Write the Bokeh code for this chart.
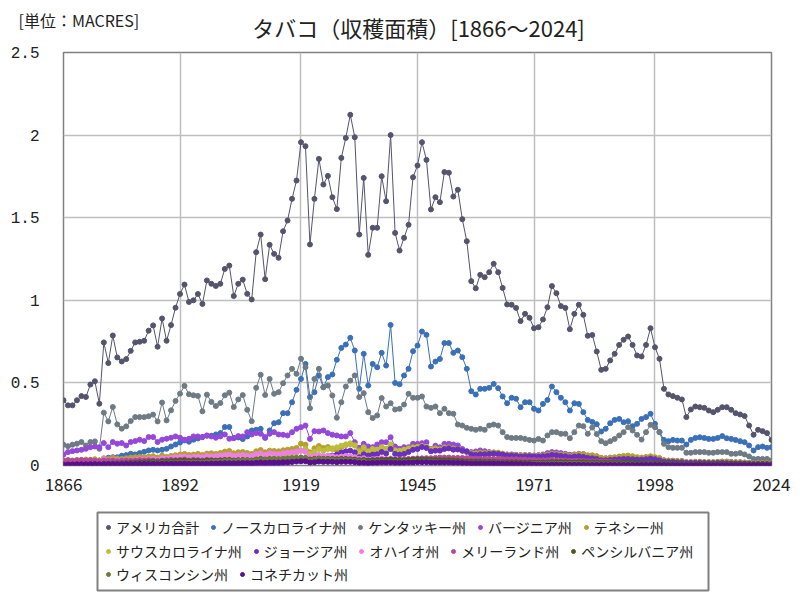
from bokeh.plotting import figure
from bokeh.models import FixedTicker, Label, Legend, LegendItem, CustomJSTickFormatter, Range1d, BoxAnnotation
from bokeh.layouts import column
from bokeh.embed import file_html
from bokeh.resources import INLINE

YEARS = list(range(1866, 2025))
X_TICKS = [1866, 1892, 1919, 1945, 1971, 1998, 2024]
Y_TICKS = [0, 0.5, 1, 1.5, 2, 2.5]

US = [0.395, 0.364, 0.364, 0.395, 0.42, 0.415, 0.49, 0.51, 0.374, 0.745,
      0.62, 0.787, 0.654, 0.63, 0.644, 0.694, 0.745, 0.749, 0.755, 0.816,
      0.848, 0.719, 0.89, 0.755, 0.85, 0.955, 1.038, 1.095, 0.99, 1.0,
      1.038, 0.978, 1.12, 1.10, 1.087, 1.10, 1.19, 1.21, 1.026, 1.10,
      1.125, 1.039, 1.005, 1.291, 1.398, 1.128, 1.336, 1.281, 1.257, 1.418,
      1.483, 1.614, 1.725, 1.957, 1.933, 1.338, 1.614, 1.856, 1.701, 1.753,
      1.624, 1.552, 1.862, 1.983, 2.123, 1.987, 1.398, 1.741, 1.275, 1.439,
      1.439, 1.751, 1.60, 2.0, 1.408, 1.301, 1.378, 1.457, 1.745, 1.816,
      1.957, 1.85, 1.55, 1.624, 1.594, 1.776, 1.772, 1.628, 1.669, 1.491,
      1.358, 1.116, 1.073, 1.154, 1.14, 1.17, 1.221, 1.17, 1.075, 0.975,
      0.973, 0.954, 0.874, 0.918, 0.894, 0.831, 0.837, 0.884, 0.958, 1.086,
      1.043, 0.965, 0.954, 0.825, 0.918, 0.973, 0.912, 0.785, 0.79, 0.69,
      0.579, 0.585, 0.636, 0.676, 0.73, 0.761, 0.781, 0.73, 0.666, 0.66,
      0.73, 0.831, 0.716, 0.646, 0.464, 0.43, 0.42, 0.41, 0.40, 0.293,
      0.339, 0.357, 0.353, 0.349, 0.333, 0.323, 0.337, 0.353, 0.353, 0.337,
      0.317, 0.309, 0.299, 0.242, 0.186, 0.216, 0.208, 0.196, 0.155]

NC = [0.014, 0.016, 0.02, 0.02, 0.026, 0.026, 0.03, 0.034, 0.03, 0.04,
      0.047, 0.05, 0.05, 0.059, 0.063, 0.071, 0.067, 0.075, 0.083, 0.091,
      0.095, 0.091, 0.095, 0.101, 0.115, 0.127, 0.139, 0.152, 0.144, 0.156,
      0.164, 0.172, 0.18, 0.18, 0.188, 0.196, 0.233, 0.233, 0.166, 0.17,
      0.16, 0.176, 0.212, 0.216, 0.222, 0.167, 0.212, 0.256, 0.262, 0.317,
      0.317, 0.383, 0.458, 0.524, 0.615, 0.414, 0.444, 0.545, 0.474, 0.535,
      0.551, 0.64, 0.712, 0.732, 0.773, 0.696, 0.464, 0.676, 0.484, 0.615,
      0.595, 0.682, 0.605, 0.851, 0.50, 0.492, 0.545, 0.585, 0.692, 0.726,
      0.811, 0.791, 0.599, 0.629, 0.645, 0.741, 0.741, 0.682, 0.696, 0.656,
      0.585, 0.45, 0.43, 0.464, 0.464, 0.47, 0.494, 0.468, 0.418, 0.377,
      0.41, 0.404, 0.353, 0.383, 0.383, 0.343, 0.333, 0.373, 0.397, 0.478,
      0.444, 0.41, 0.383, 0.333, 0.377, 0.373, 0.323, 0.276, 0.264, 0.25,
      0.206, 0.222, 0.256, 0.276, 0.282, 0.262, 0.268, 0.238, 0.252, 0.282,
      0.293, 0.313, 0.252, 0.202, 0.155, 0.147, 0.155, 0.151, 0.151, 0.127,
      0.155, 0.167, 0.171, 0.167, 0.161, 0.161, 0.167, 0.178, 0.165, 0.161,
      0.155, 0.147, 0.141, 0.121, 0.091, 0.111, 0.115, 0.107, 0.111]

KY = [0.126, 0.117, 0.126, 0.132, 0.142, 0.121, 0.142, 0.146, 0.101, 0.32,
      0.267, 0.354, 0.249, 0.223, 0.237, 0.269, 0.293, 0.293, 0.293, 0.298,
      0.308, 0.267, 0.381, 0.273, 0.334, 0.391, 0.435, 0.482, 0.431, 0.425,
      0.421, 0.328, 0.429, 0.385, 0.36, 0.378, 0.425, 0.441, 0.354, 0.40,
      0.426, 0.337, 0.268, 0.47, 0.549, 0.427, 0.524, 0.434, 0.444, 0.498,
      0.545, 0.585, 0.555, 0.646, 0.595, 0.347, 0.524, 0.585, 0.474, 0.484,
      0.424, 0.289, 0.383, 0.478, 0.514, 0.545, 0.414, 0.438, 0.323, 0.287,
      0.303, 0.408, 0.357, 0.377, 0.339, 0.343, 0.369, 0.434, 0.41, 0.41,
      0.418, 0.357, 0.349, 0.357, 0.317, 0.343, 0.317, 0.313, 0.248, 0.242,
      0.228, 0.222, 0.216, 0.222, 0.216, 0.242, 0.248, 0.242, 0.202, 0.172,
      0.167, 0.167, 0.167, 0.161, 0.155, 0.151, 0.161, 0.151, 0.182, 0.202,
      0.202, 0.192, 0.192, 0.165, 0.202, 0.242, 0.238, 0.192, 0.23, 0.19,
      0.147, 0.135, 0.147, 0.161, 0.182, 0.202, 0.232, 0.212, 0.186, 0.157,
      0.202, 0.246, 0.232, 0.202, 0.131, 0.111, 0.107, 0.107, 0.107, 0.077,
      0.077, 0.081, 0.081, 0.081, 0.077, 0.077, 0.081, 0.081, 0.081, 0.071,
      0.071, 0.075, 0.067, 0.055, 0.04, 0.04, 0.04, 0.04, 0.03]

VA = [0.067, 0.081, 0.087, 0.091, 0.095, 0.101, 0.111, 0.115, 0.111, 0.136,
      0.111, 0.142, 0.132, 0.136, 0.121, 0.142, 0.148, 0.156, 0.148, 0.172,
      0.172, 0.142, 0.156, 0.162, 0.168, 0.176, 0.168, 0.156, 0.162, 0.176,
      0.176, 0.172, 0.182, 0.176, 0.168, 0.176, 0.188, 0.162, 0.166, 0.178,
      0.176, 0.202, 0.188, 0.196, 0.192, 0.172, 0.192, 0.202, 0.188, 0.186,
      0.182, 0.202, 0.222, 0.232, 0.242, 0.161, 0.208, 0.206, 0.212, 0.196,
      0.186, 0.182, 0.176, 0.176, 0.196, 0.141, 0.107, 0.131, 0.115, 0.111,
      0.127, 0.141, 0.141, 0.171, 0.115, 0.101, 0.111, 0.111, 0.131, 0.131,
      0.135, 0.141, 0.10, 0.12, 0.11, 0.131, 0.131, 0.127, 0.121, 0.10,
      0.087, 0.081, 0.085, 0.091, 0.087, 0.081, 0.071, 0.071, 0.067, 0.067,
      0.067, 0.065, 0.063, 0.063, 0.063, 0.061, 0.063, 0.067, 0.075, 0.081,
      0.079, 0.075, 0.071, 0.065, 0.067, 0.071, 0.069, 0.061, 0.059, 0.055,
      0.045, 0.043, 0.045, 0.047, 0.049, 0.049, 0.051, 0.049, 0.045, 0.043,
      0.045, 0.049, 0.045, 0.039, 0.031, 0.029, 0.029, 0.027, 0.027, 0.02,
      0.02, 0.022, 0.022, 0.02, 0.02, 0.02, 0.022, 0.024, 0.024, 0.022,
      0.02, 0.02, 0.018, 0.016, 0.014, 0.014, 0.015, 0.014, 0.012]

TN = [0.03, 0.032, 0.03, 0.034, 0.032, 0.036, 0.034, 0.038, 0.03, 0.044,
      0.04, 0.046, 0.042, 0.04, 0.044, 0.048, 0.05, 0.052, 0.05, 0.054,
      0.056, 0.048, 0.06, 0.052, 0.058, 0.062, 0.066, 0.07, 0.064, 0.066,
      0.07, 0.064, 0.072, 0.074, 0.07, 0.076, 0.084, 0.088, 0.074, 0.08,
      0.082, 0.076, 0.07, 0.086, 0.094, 0.08, 0.09, 0.088, 0.086, 0.092,
      0.096, 0.1, 0.106, 0.132, 0.126, 0.08, 0.104, 0.118, 0.106, 0.112,
      0.1, 0.092, 0.112, 0.124, 0.13, 0.124, 0.092, 0.1, 0.082, 0.086,
      0.09, 0.11, 0.1, 0.118, 0.092, 0.088, 0.096, 0.104, 0.11, 0.114,
      0.118, 0.112, 0.1, 0.104, 0.098, 0.11, 0.11, 0.104, 0.1, 0.09,
      0.084, 0.076, 0.074, 0.078, 0.076, 0.078, 0.08, 0.078, 0.072, 0.066,
      0.064, 0.064, 0.062, 0.062, 0.06, 0.058, 0.06, 0.062, 0.066, 0.072,
      0.07, 0.066, 0.066, 0.058, 0.064, 0.07, 0.068, 0.06, 0.062, 0.056,
      0.046, 0.044, 0.048, 0.05, 0.054, 0.058, 0.06, 0.056, 0.05, 0.048,
      0.052, 0.056, 0.05, 0.046, 0.032, 0.03, 0.028, 0.028, 0.026, 0.02,
      0.02, 0.021, 0.021, 0.02, 0.02, 0.019, 0.021, 0.022, 0.022, 0.021,
      0.02, 0.019, 0.018, 0.016, 0.014, 0.015, 0.015, 0.014, 0.013]

SC = [0.006, 0.006, 0.006, 0.007, 0.007, 0.008, 0.008, 0.008, 0.007, 0.009,
      0.009, 0.01, 0.01, 0.01, 0.011, 0.012, 0.012, 0.013, 0.013, 0.014,
      0.015, 0.015, 0.017, 0.018, 0.02, 0.022, 0.024, 0.026, 0.025, 0.028,
      0.03, 0.03, 0.032, 0.033, 0.034, 0.036, 0.04, 0.04, 0.034, 0.036,
      0.036, 0.036, 0.04, 0.042, 0.044, 0.036, 0.044, 0.05, 0.052, 0.058,
      0.06, 0.068, 0.078, 0.09, 0.1, 0.07, 0.084, 0.1, 0.09, 0.1,
      0.104, 0.11, 0.12, 0.128, 0.134, 0.12, 0.08, 0.11, 0.086, 0.1,
      0.096, 0.11, 0.1, 0.128, 0.09, 0.088, 0.094, 0.1, 0.108, 0.11,
      0.116, 0.112, 0.094, 0.098, 0.096, 0.104, 0.104, 0.098, 0.096, 0.088,
      0.08, 0.068, 0.066, 0.068, 0.066, 0.068, 0.07, 0.068, 0.062, 0.056,
      0.054, 0.052, 0.048, 0.05, 0.05, 0.048, 0.046, 0.048, 0.05, 0.056,
      0.054, 0.05, 0.048, 0.042, 0.048, 0.05, 0.048, 0.042, 0.04, 0.038,
      0.03, 0.03, 0.032, 0.034, 0.036, 0.038, 0.038, 0.036, 0.034, 0.034,
      0.036, 0.04, 0.036, 0.032, 0.024, 0.022, 0.022, 0.02, 0.02, 0.016,
      0.016, 0.017, 0.017, 0.016, 0.016, 0.016, 0.017, 0.018, 0.017, 0.016,
      0.015, 0.015, 0.014, 0.012, 0.01, 0.011, 0.011, 0.01, 0.009]

GA = [0.002, 0.002, 0.002, 0.002, 0.002, 0.002, 0.002, 0.003, 0.003, 0.003,
      0.003, 0.003, 0.003, 0.003, 0.003, 0.003, 0.003, 0.003, 0.003, 0.003,
      0.003, 0.003, 0.003, 0.003, 0.004, 0.004, 0.004, 0.004, 0.004, 0.004,
      0.004, 0.004, 0.004, 0.004, 0.004, 0.004, 0.005, 0.005, 0.005, 0.005,
      0.005, 0.005, 0.006, 0.006, 0.006, 0.006, 0.008, 0.01, 0.012, 0.015,
      0.018, 0.022, 0.028, 0.036, 0.04, 0.022, 0.03, 0.045, 0.05, 0.058,
      0.06, 0.066, 0.078, 0.086, 0.09, 0.08, 0.05, 0.068, 0.06, 0.066,
      0.068, 0.082, 0.072, 0.1, 0.07, 0.066, 0.07, 0.082, 0.095, 0.1,
      0.112, 0.106, 0.086, 0.09, 0.09, 0.1, 0.104, 0.096, 0.098, 0.09,
      0.084, 0.068, 0.064, 0.068, 0.068, 0.07, 0.072, 0.07, 0.066, 0.06,
      0.06, 0.058, 0.054, 0.056, 0.056, 0.054, 0.054, 0.056, 0.058, 0.064,
      0.062, 0.058, 0.056, 0.05, 0.054, 0.056, 0.052, 0.046, 0.044, 0.04,
      0.032, 0.032, 0.034, 0.036, 0.038, 0.04, 0.04, 0.038, 0.036, 0.036,
      0.038, 0.042, 0.038, 0.032, 0.024, 0.022, 0.022, 0.02, 0.02, 0.016,
      0.016, 0.016, 0.017, 0.016, 0.015, 0.015, 0.016, 0.016, 0.015, 0.014,
      0.013, 0.013, 0.012, 0.011, 0.009, 0.01, 0.01, 0.009, 0.008]

OH = [0.018, 0.02, 0.022, 0.02, 0.024, 0.03, 0.026, 0.028, 0.02, 0.04,
      0.03, 0.034, 0.032, 0.03, 0.034, 0.032, 0.036, 0.038, 0.036, 0.04,
      0.04, 0.036, 0.044, 0.042, 0.046, 0.05, 0.052, 0.054, 0.05, 0.052,
      0.054, 0.05, 0.058, 0.056, 0.056, 0.06, 0.064, 0.066, 0.058, 0.062,
      0.064, 0.06, 0.058, 0.068, 0.074, 0.064, 0.074, 0.07, 0.068, 0.074,
      0.078, 0.08, 0.084, 0.09, 0.082, 0.05, 0.06, 0.064, 0.058, 0.06,
      0.056, 0.05, 0.054, 0.058, 0.056, 0.05, 0.04, 0.044, 0.036, 0.038,
      0.04, 0.044, 0.04, 0.042, 0.036, 0.034, 0.036, 0.04, 0.042, 0.044,
      0.044, 0.04, 0.036, 0.036, 0.034, 0.034, 0.036, 0.034, 0.032, 0.03,
      0.028, 0.026, 0.024, 0.024, 0.024, 0.024, 0.024, 0.022, 0.022, 0.02,
      0.02, 0.02, 0.018, 0.018, 0.018, 0.017, 0.017, 0.017, 0.018, 0.02,
      0.019, 0.018, 0.018, 0.016, 0.017, 0.018, 0.017, 0.015, 0.015, 0.014,
      0.012, 0.012, 0.012, 0.013, 0.013, 0.013, 0.013, 0.012, 0.011, 0.011,
      0.012, 0.012, 0.011, 0.01, 0.008, 0.007, 0.007, 0.006, 0.006, 0.005,
      0.004, 0.004, 0.004, 0.003, 0.003, 0.003, 0.003, 0.003, 0.003, 0.003,
      0.002, 0.002, 0.002, 0.002, 0.002, 0.002, 0.002, 0.002, 0.002]

MD = [0.03, 0.032, 0.028, 0.03, 0.034, 0.03, 0.032, 0.028, 0.026, 0.03,
      0.028, 0.03, 0.026, 0.028, 0.03, 0.028, 0.03, 0.032, 0.03, 0.032,
      0.03, 0.028, 0.03, 0.032, 0.034, 0.032, 0.034, 0.036, 0.03, 0.034,
      0.032, 0.03, 0.034, 0.032, 0.03, 0.032, 0.034, 0.032, 0.028, 0.03,
      0.03, 0.028, 0.026, 0.028, 0.03, 0.028, 0.028, 0.028, 0.027, 0.028,
      0.028, 0.028, 0.03, 0.03, 0.03, 0.028, 0.03, 0.03, 0.028, 0.028,
      0.028, 0.026, 0.028, 0.03, 0.03, 0.028, 0.028, 0.03, 0.03, 0.032,
      0.034, 0.036, 0.036, 0.038, 0.036, 0.036, 0.036, 0.038, 0.04, 0.04,
      0.042, 0.044, 0.044, 0.046, 0.048, 0.048, 0.048, 0.046, 0.046, 0.046,
      0.044, 0.042, 0.042, 0.04, 0.04, 0.04, 0.04, 0.04, 0.038, 0.038,
      0.038, 0.038, 0.036, 0.036, 0.034, 0.034, 0.032, 0.032, 0.032, 0.032,
      0.03, 0.03, 0.03, 0.028, 0.028, 0.028, 0.028, 0.026, 0.026, 0.025,
      0.024, 0.024, 0.022, 0.02, 0.02, 0.018, 0.016, 0.014, 0.012, 0.011,
      0.01, 0.01, 0.009, 0.008, 0.005, 0.002, 0.001, 0.001, 0.001, 0.001,
      0.001, 0.001, 0.001, 0.001, 0.001, 0.001, 0.001, 0.001, 0.001, 0.001,
      0.001, 0.001, 0.001, 0.001, 0.001, 0.001, 0.001, 0.001, 0.001]

PA = [0.004, 0.004, 0.005, 0.005, 0.006, 0.006, 0.007, 0.007, 0.006, 0.01,
      0.01, 0.012, 0.012, 0.013, 0.014, 0.016, 0.018, 0.02, 0.02, 0.022,
      0.024, 0.02, 0.026, 0.024, 0.026, 0.028, 0.028, 0.03, 0.026, 0.028,
      0.028, 0.026, 0.03, 0.03, 0.028, 0.03, 0.032, 0.034, 0.03, 0.032,
      0.034, 0.032, 0.03, 0.036, 0.04, 0.036, 0.038, 0.038, 0.036, 0.038,
      0.04, 0.042, 0.044, 0.046, 0.044, 0.036, 0.04, 0.042, 0.04, 0.04,
      0.04, 0.038, 0.04, 0.04, 0.038, 0.036, 0.032, 0.034, 0.03, 0.032,
      0.032, 0.034, 0.034, 0.036, 0.034, 0.032, 0.03, 0.034, 0.036, 0.038,
      0.036, 0.036, 0.034, 0.034, 0.032, 0.032, 0.032, 0.03, 0.028, 0.026,
      0.024, 0.024, 0.024, 0.024, 0.022, 0.022, 0.022, 0.02, 0.02, 0.02,
      0.02, 0.02, 0.018, 0.018, 0.018, 0.017, 0.017, 0.018, 0.018, 0.02,
      0.02, 0.02, 0.02, 0.018, 0.018, 0.02, 0.02, 0.018, 0.018, 0.018,
      0.016, 0.016, 0.016, 0.016, 0.017, 0.018, 0.018, 0.018, 0.016, 0.014,
      0.014, 0.014, 0.013, 0.013, 0.012, 0.011, 0.01, 0.01, 0.01, 0.009,
      0.009, 0.009, 0.01, 0.01, 0.01, 0.01, 0.01, 0.01, 0.01, 0.01,
      0.01, 0.009, 0.009, 0.008, 0.007, 0.008, 0.008, 0.007, 0.007]

WI = [0.002, 0.002, 0.003, 0.003, 0.004, 0.004, 0.005, 0.005, 0.004, 0.006,
      0.006, 0.007, 0.008, 0.008, 0.009, 0.01, 0.011, 0.012, 0.012, 0.013,
      0.014, 0.012, 0.015, 0.014, 0.015, 0.016, 0.017, 0.018, 0.016, 0.018,
      0.018, 0.017, 0.02, 0.022, 0.022, 0.024, 0.028, 0.03, 0.026, 0.03,
      0.032, 0.03, 0.028, 0.034, 0.038, 0.034, 0.04, 0.04, 0.038, 0.04,
      0.042, 0.044, 0.046, 0.048, 0.046, 0.03, 0.036, 0.04, 0.036, 0.036,
      0.034, 0.03, 0.032, 0.034, 0.032, 0.028, 0.024, 0.026, 0.018, 0.02,
      0.02, 0.022, 0.02, 0.022, 0.02, 0.02, 0.02, 0.022, 0.022, 0.024,
      0.024, 0.024, 0.022, 0.022, 0.02, 0.02, 0.02, 0.018, 0.018, 0.016,
      0.016, 0.014, 0.014, 0.014, 0.014, 0.014, 0.014, 0.013, 0.013, 0.012,
      0.012, 0.011, 0.01, 0.01, 0.01, 0.01, 0.01, 0.01, 0.01, 0.011,
      0.011, 0.011, 0.01, 0.01, 0.01, 0.01, 0.01, 0.009, 0.009, 0.009,
      0.007, 0.007, 0.007, 0.007, 0.007, 0.007, 0.007, 0.006, 0.005, 0.005,
      0.005, 0.005, 0.004, 0.004, 0.003, 0.003, 0.002, 0.002, 0.002, 0.002,
      0.002, 0.002, 0.002, 0.002, 0.002, 0.002, 0.001, 0.001, 0.001, 0.001,
      0.001, 0.001, 0.001, 0.001, 0.001, 0.001, 0.001, 0.001, 0.001]

CT = [0.006, 0.006, 0.006, 0.007, 0.007, 0.007, 0.008, 0.008, 0.007, 0.008,
      0.008, 0.008, 0.008, 0.008, 0.009, 0.009, 0.009, 0.01, 0.01, 0.01,
      0.01, 0.009, 0.01, 0.01, 0.01, 0.011, 0.011, 0.012, 0.01, 0.011,
      0.011, 0.01, 0.011, 0.012, 0.012, 0.013, 0.014, 0.014, 0.013, 0.014,
      0.015, 0.015, 0.014, 0.016, 0.018, 0.016, 0.018, 0.018, 0.018, 0.02,
      0.02, 0.022, 0.024, 0.026, 0.026, 0.018, 0.02, 0.024, 0.022, 0.022,
      0.022, 0.02, 0.022, 0.022, 0.022, 0.02, 0.016, 0.016, 0.014, 0.016,
      0.016, 0.018, 0.018, 0.018, 0.016, 0.016, 0.016, 0.018, 0.018, 0.02,
      0.02, 0.02, 0.018, 0.018, 0.018, 0.018, 0.018, 0.016, 0.016, 0.015,
      0.014, 0.012, 0.012, 0.012, 0.012, 0.012, 0.012, 0.011, 0.011, 0.01,
      0.01, 0.009, 0.009, 0.008, 0.008, 0.006, 0.005, 0.005, 0.005, 0.005,
      0.005, 0.004, 0.004, 0.004, 0.004, 0.004, 0.004, 0.003, 0.003, 0.003,
      0.003, 0.003, 0.003, 0.003, 0.003, 0.003, 0.003, 0.003, 0.003, 0.003,
      0.003, 0.003, 0.003, 0.003, 0.003, 0.002, 0.002, 0.002, 0.002, 0.002,
      0.002, 0.002, 0.002, 0.002, 0.002, 0.002, 0.002, 0.002, 0.002, 0.002,
      0.002, 0.002, 0.002, 0.002, 0.002, 0.002, 0.002, 0.002, 0.002]

NAMES = ["アメリカ合計", "ノースカロライナ州", "ケンタッキー州", "バージニア州", "テネシー州",
         "サウスカロライナ州", "ジョージア州", "オハイオ州", "メリーランド州", "ペンシルバニア州",
         "ウィスコンシン州", "コネチカット州"]
VALUES = [US, NC, KY, VA, TN, SC, GA, OH, MD, PA, WI, CT]
COLORS = ["#54546C", "#3A70B8", "#6E7B85", "#9448DA", "#B5A02A", "#BDBD3A",
          "#6A2EC0", "#EE7FE8", "#B4489A", "#4B5A22", "#6F7A3D", "#5A108E"]

TITLE = "タバコ（収穫面積）[1866～2024]"
UNIT = "[単位：MACRES]"

JP = "Noto Sans CJK JP"
BL, BR = 63, 29
FRAME_W = 708

# ---- header (title + unit caption) ----
HH = 42
hd = figure(width=800, height=HH, output_backend="svg", toolbar_location=None,
            x_axis_location=None, y_axis_location=None,
            x_range=Range1d(0, 800), y_range=Range1d(0, HH),
            min_border_left=0, min_border_right=0, min_border_top=0, min_border_bottom=0)
hd.frame_align = False
hd.grid.visible = False
hd.outline_line_color = None
hd.add_layout(Label(x=418, y=HH - 26.5, text=TITLE, text_font=JP, text_font_size="22px",
                    text_align="center", text_baseline="middle", text_color="#222222"))
hd.add_layout(Label(x=18, y=HH - 19, text=UNIT, text_font=JP, text_font_size="16px",
                    text_align="left", text_baseline="middle", text_color="#222222"))

# ---- main chart ----
TOP = 52 - HH
p = figure(width=800, height=505 - HH, x_range=(1866, 2024), y_range=(0, 2.5),
           output_backend="svg", toolbar_location=None,
           min_border_left=BL, min_border_right=BR, min_border_top=TOP, min_border_bottom=40)

for name, vals, col in zip(NAMES, VALUES, COLORS):
    p.line(YEARS, vals, line_color=col, line_width=1)
    p.scatter(YEARS, vals, size=5, fill_color=col, line_color=col)

p.xaxis.ticker = FixedTicker(ticks=X_TICKS)
p.yaxis.ticker = FixedTicker(ticks=Y_TICKS)
p.yaxis.formatter = CustomJSTickFormatter(code="return tick.toString();")
for ax in (p.xaxis, p.yaxis):
    ax.axis_line_color = None
    ax.major_tick_line_color = None
    ax.minor_tick_line_color = None
    ax.major_label_text_color = "#222222"
p.xaxis.major_label_text_font = JP
p.xaxis.major_label_text_font_size = "17px"
p.xaxis.major_label_standoff = 6
p.yaxis.major_label_text_font = "Liberation Mono"
p.yaxis.major_label_text_font_size = "16px"
p.yaxis.major_label_standoff = 18

p.grid.grid_line_color = "#BEBEBE"
p.grid.grid_line_width = 1.5
p.outline_line_color = "#808080"
p.outline_line_width = 1.5

# ---- legend box ----
LH = 95
lg = figure(width=800, height=LH, output_backend="svg", toolbar_location=None,
            x_axis_location=None, y_axis_location=None,
            x_range=Range1d(0, FRAME_W), y_range=Range1d(0, LH),
            min_border_left=BL, min_border_right=BR, min_border_top=0, min_border_bottom=0)
lg.grid.visible = False
lg.outline_line_color = None
lg.add_layout(BoxAnnotation(left=34, right=645, bottom=10, top=88, fill_alpha=0,
                            line_color="#808080", line_width=2, line_alpha=1))

ROWS = [[0, 1, 2, 3, 4], [5, 6, 7, 8, 9], [10, 11]]
ROW_Y = [63, 39, 16]
for ri, row in enumerate(ROWS):
    items = []
    for i in row:
        r = lg.scatter([-10], [-10], size=8, fill_color=COLORS[i], line_color=COLORS[i])
        items.append(LegendItem(label=NAMES[i], renderers=[r]))
    leg = Legend(items=items, orientation="horizontal", location=(40, ROW_Y[ri]),
                 border_line_alpha=0, background_fill_alpha=0, padding=0, margin=0,
                 spacing=9, glyph_width=10, glyph_height=20, label_height=20,
                 label_standoff=3, label_text_font=JP, label_text_font_size="14px",
                 label_text_color="#222222")
    lg.add_layout(leg, "center")

layout = column(hd, p, lg, spacing=0)
open("out.html", "w").write(file_html(layout, INLINE))
